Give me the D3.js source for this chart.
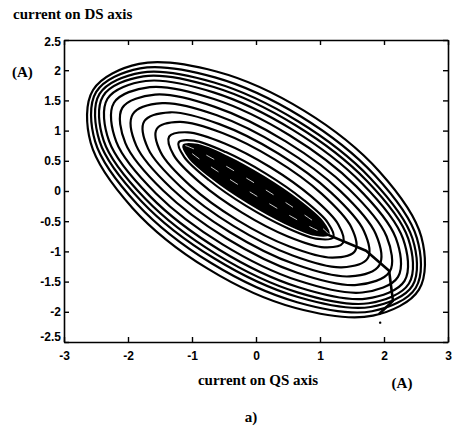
<!DOCTYPE html>
<html>
<head>
<meta charset="utf-8">
<script src="https://cdn.jsdelivr.net/npm/d3@7"></script>
<style>
  html, body { margin: 0; padding: 0; background: #fff; }
  svg { display: block; }
</style>
</head>
<body>
<svg id="chart" width="453" height="429"></svg>
<script>
// ---- data (current on QS axis, current on DS axis), in A ----
const xTicks = [-3, -2, -1, 0, 1, 2, 3];
const yTicks = [-2.5, -2, -1.5, -1, -0.5, 0, 0.5, 1, 1.5, 2, 2.5];
const xTickLabels = ["-3", "-2", "-1", "0", "1", "2", "3"];
const yTickLabels = ["-2.5", "-2", "-1.5", "-1", "-0.5", "0", "0.5", "1", "1.5", "2", "2.5"];

const loop01 = [[2.546,-1.633],[1.827,-2.064],[0.619,-1.938],[-0.755,-1.286],[-1.927,-0.284],[-2.583,0.798],[-2.546,1.673],[-1.827,2.104],[-0.619,1.978],[0.755,1.326],[1.927,0.324],[2.583,-0.758]];
const loop02 = [[2.497,-1.601],[1.811,-1.991],[0.642,-1.841],[-0.701,-1.193],[-1.856,-0.219],[-2.513,0.817],[-2.497,1.641],[-1.811,2.031],[-0.642,1.881],[0.701,1.233],[1.856,0.259],[2.513,-0.777]];
const loop03 = [[2.445,-1.567],[1.789,-1.921],[0.655,-1.756],[-0.656,-1.114],[-1.791,-0.168],[-2.445,0.827],[-2.445,1.607],[-1.789,1.961],[-0.655,1.796],[0.656,1.154],[1.791,0.208],[2.445,-0.787]];
const loop04 = [[2.390,-1.532],[1.761,-1.859],[0.660,-1.682],[-0.618,-1.049],[-1.730,-0.130],[-2.379,0.829],[-2.390,1.572],[-1.761,1.899],[-0.660,1.722],[0.618,1.089],[1.730,0.170],[2.379,-0.789]];
const loop05 = [[2.321,-1.487],[1.723,-1.781],[0.664,-1.593],[-0.574,-0.972],[-1.658,-0.085],[-2.297,0.829],[-2.321,1.527],[-1.723,1.821],[-0.664,1.633],[0.574,1.012],[1.658,0.125],[2.297,-0.789]];
const loop06 = [[2.219,-1.421],[1.660,-1.680],[0.657,-1.483],[-0.523,-0.883],[-1.563,-0.041],[-2.184,0.816],[-2.219,1.461],[-1.660,1.720],[-0.657,1.523],[0.523,0.923],[1.563,0.081],[2.184,-0.776]];
const loop07 = [[2.089,-1.336],[1.577,-1.555],[0.643,-1.353],[-0.464,-0.782],[-1.447,0.003],[-2.041,0.793],[-2.089,1.376],[-1.577,1.595],[-0.643,1.393],[0.464,0.822],[1.447,0.037],[2.041,-0.753]];
const loop08 = [[1.926,-1.231],[1.465,-1.414],[0.611,-1.214],[-0.406,-0.682],[-1.315,0.038],[-1.871,0.752],[-1.926,1.271],[-1.465,1.454],[-0.611,1.254],[0.406,0.722],[1.315,0.002],[1.871,-0.712]];
const loop09 = [[1.746,-1.114],[1.338,-1.263],[0.572,-1.067],[-0.348,-0.581],[-1.174,0.067],[-1.686,0.701],[-1.746,1.154],[-1.338,1.303],[-0.572,1.107],[0.348,0.621],[1.174,-0.027],[1.686,-0.661]];
const loop10 = [[1.551,-0.987],[1.197,-1.104],[0.524,-0.920],[-0.291,-0.483],[-1.028,0.088],[-1.489,0.640],[-1.551,1.027],[-1.197,1.144],[-0.524,0.960],[0.291,0.523],[1.028,-0.048],[1.489,-0.600]];
const loop11 = [[1.358,-0.861],[1.066,-0.932],[0.489,-0.748],[-0.219,-0.358],[-0.869,0.134],[-1.286,0.594],[-1.358,0.901],[-1.066,0.972],[-0.489,0.788],[0.219,0.398],[0.869,-0.094],[1.286,-0.554]];
const loop12 = [[1.208,-0.765],[0.969,-0.794],[0.471,-0.604],[-0.154,-0.247],[-0.737,0.182],[-1.123,0.566],[-1.208,0.805],[-0.969,0.834],[-0.471,0.644],[0.154,0.287],[0.737,-0.142],[1.123,-0.526]];
// dense inner band (the settled orbit)
const band1 = [[1.132,-0.715],[0.919,-0.723],[0.460,-0.532],[-0.122,-0.192],[-0.672,0.204],[-1.041,0.551],[-1.132,0.755],[-0.919,0.763],[-0.460,0.572],[0.122,0.232],[0.672,-0.164],[1.041,-0.511]];
const band3 = [[1.132,-0.715],[0.960,-0.652],[0.530,-0.409],[-0.041,-0.051],[-0.602,0.327],[-1.000,0.622],[-1.132,0.755],[-0.960,0.692],[-0.530,0.449],[0.041,0.091],[0.602,-0.287],[1.000,-0.582]];
// transient stroke crossing the loops on the right, and a stray dot
const transient = [[1.09,-0.71],[1.72,-0.99],[2.08,-1.32],[2.14,-1.82],[1.92,-2.04]];
const strayDot = [[1.94,-2.18]];

const loops = [loop01, loop02, loop03, loop04, loop05, loop06, loop07, loop08, loop09, loop10, loop11, loop12];

// ---- drawing ----
const svg = d3.select("#chart");
const x = d3.scaleLinear().domain([-3, 3]).range([64, 448]);
const y = d3.scaleLinear().domain([-2.5, 2.5]).range([342, 40]);

const line = d3.line()
  .x(d => x(d[0])).y(d => y(d[1]))
  .curve(d3.curveCatmullRomClosed.alpha(0.5));
const openLine = d3.line()
  .x(d => x(d[0])).y(d => y(d[1]))
  .curve(d3.curveLinear);

const plot = svg.append("g");
plot.selectAll("path.loop").data(loops).join("path")
  .attr("class", "loop")
  .attr("d", line)
  .attr("fill", "none")
  .attr("stroke", "#000")
  .attr("stroke-width", 2.2)
  .attr("stroke-linejoin", "round");

plot.append("path").datum(band1)
  .attr("d", line)
  .attr("fill", "#000")
  .attr("stroke", "#000")
  .attr("stroke-width", 2.2);
plot.append("path").datum(band3)
  .attr("d", line)
  .attr("fill", "none")
  .attr("stroke", "#fff")
  .attr("stroke-width", 0.8)
  .attr("stroke-dasharray", "9,14");

plot.append("path").datum(transient)
  .attr("d", openLine)
  .attr("fill", "none")
  .attr("stroke", "#000")
  .attr("stroke-width", 2.6)
  .attr("stroke-linejoin", "round");
plot.selectAll("circle.dot").data(strayDot).join("circle")
  .attr("class", "dot")
  .attr("cx", d => x(d[0])).attr("cy", d => y(d[1])).attr("r", 1.2).attr("fill", "#000");

// frame with inward ticks (MATLAB style)
const axisFont = "'Liberation Sans', Arial, sans-serif";
const gB = svg.append("g").attr("transform", "translate(0,342)")
  .call(d3.axisBottom(x).tickValues(xTicks).tickSizeInner(-5).tickSizeOuter(0)
    .tickFormat((d, i) => xTickLabels[i]).tickPadding(9));
const gT = svg.append("g").attr("transform", "translate(0,40)")
  .call(d3.axisTop(x).tickValues(xTicks).tickSizeInner(-5).tickSizeOuter(0).tickFormat(""));
const gL = svg.append("g").attr("transform", "translate(64,0)")
  .call(d3.axisLeft(y).tickValues(yTicks).tickSizeInner(-5).tickSizeOuter(0)
    .tickFormat((d, i) => yTickLabels[i]).tickPadding(3));
const gR = svg.append("g").attr("transform", "translate(448,0)")
  .call(d3.axisRight(y).tickValues(yTicks).tickSizeInner(-5).tickSizeOuter(0).tickFormat(""));

[gB, gT, gL, gR].forEach(g => {
  g.select(".domain").attr("stroke", "#000").attr("stroke-width", 1.6);
  g.selectAll(".tick line").attr("stroke", "#000").attr("stroke-width", 1.4);
  g.selectAll("text").attr("font-family", axisFont).attr("font-size", 12)
    .attr("font-weight", "bold").attr("fill", "#000");
});
gL.selectAll(".tick").filter(d => d === -2.5).select("text").attr("dy", "-0.1em");
gL.selectAll(".tick").filter(d => d === 2.5).select("text").attr("dy", "0.45em");

// titles
const serif = "'Liberation Serif', 'Times New Roman', serif";
svg.append("text").attr("x", 13).attr("y", 19).text("current on DS axis")
  .attr("font-family", serif).attr("font-size", 15).attr("font-weight", "bold");
svg.append("text").attr("x", 12).attr("y", 77).text("(A)")
  .attr("font-family", serif).attr("font-size", 15).attr("font-weight", "bold");
svg.append("text").attr("x", 258).attr("y", 385).attr("text-anchor", "middle").text("current on QS axis")
  .attr("font-family", serif).attr("font-size", 15).attr("font-weight", "bold");
svg.append("text").attr("x", 402).attr("y", 388).attr("text-anchor", "middle").text("(A)")
  .attr("font-family", serif).attr("font-size", 15).attr("font-weight", "bold");
svg.append("text").attr("x", 251).attr("y", 422).attr("text-anchor", "middle").text("a)")
  .attr("font-family", serif).attr("font-size", 15).attr("font-weight", "bold");
</script>
</body>
</html>
